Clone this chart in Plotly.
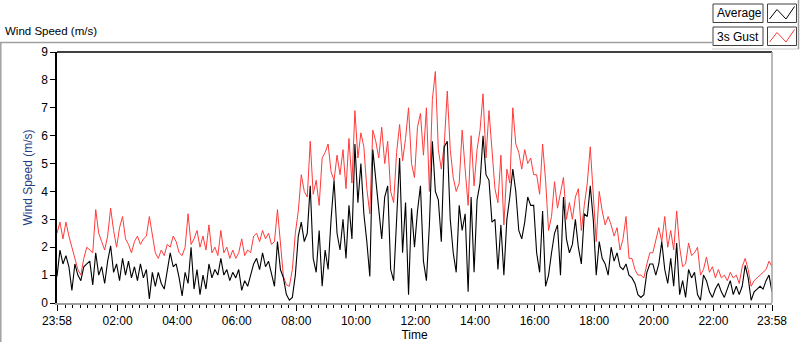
import pandas as pd
import plotly.graph_objects as go

# ---------------- data (6-minute samples) ----------------
start_time = "2019-01-01 23:58"
step = "6min"

gust = [
    2.5, 2.9, 2.3, 2.9, 2.4, 2.0, 1.6, 1.2, 1.0, 1.6,
    2.0, 1.9, 1.8, 3.35, 2.5, 2.2, 1.9, 2.4, 3.4, 2.6,
    2.0, 2.7, 3.1, 2.3, 2.1, 1.8, 2.2, 2.4, 2.1, 2.3,
    2.4, 3.1, 2.5, 1.8, 1.6, 1.9, 1.7, 2.1, 2.0, 2.4,
    2.2, 1.8, 1.7, 2.0, 3.2, 2.1, 2.3, 2.6, 2.0, 2.4,
    1.9, 2.8, 1.8, 2.0, 1.7, 2.6, 1.8, 2.0, 1.6, 1.9,
    1.6, 1.8, 2.3, 1.7, 1.9, 1.8, 2.4, 2.5, 2.2, 2.6,
    2.3, 2.5, 2.1, 2.2, 3.35, 2.0, 0.95, 0.65, 0.6, 1.2,
    2.5, 3.3, 4.6, 4.0, 3.8, 5.8, 3.9, 4.4, 3.5, 5.2,
    5.4, 5.7, 4.7, 4.4, 5.3, 4.6, 5.5, 4.1, 5.9, 4.3,
    6.9, 5.2, 6.1, 5.6, 4.1, 3.2, 6.2, 5.8, 5.2, 6.3,
    5.0, 5.8, 4.0, 3.6, 5.4, 6.4, 5.1, 5.9, 7.0, 5.0,
    4.5, 6.3, 6.8, 5.3, 7.0, 4.0, 7.3, 8.3, 5.5, 4.8,
    5.7, 7.6, 5.5, 4.5, 4.0, 4.3, 6.2, 4.8, 3.5, 6.0,
    4.2, 5.5, 6.2, 7.5, 5.2, 6.9, 5.3, 4.1, 3.6, 5.3,
    2.8, 4.8, 4.3, 7.0, 5.7, 5.4, 4.8, 5.5, 5.0, 5.2,
    4.6, 4.6, 3.9, 5.7, 4.4, 2.6, 3.1, 4.35, 3.4, 3.9,
    4.5, 3.0, 3.6, 3.0, 3.8, 4.1, 2.6, 3.5, 4.3, 5.6,
    4.0, 2.2, 4.0, 3.3, 2.8, 3.1, 2.8, 2.4, 2.7, 1.9,
    2.3, 3.1, 1.6, 1.6, 1.2, 1.0, 1.0, 0.9, 1.4, 1.8,
    1.8, 2.3, 2.7, 2.2, 3.1, 2.0, 2.6, 1.9, 3.3, 2.0,
    1.3, 1.4, 2.15, 1.7, 1.8, 2.0, 1.0, 1.2, 1.65, 1.1,
    1.3, 0.9, 1.2, 0.9, 1.0, 0.8, 1.1, 0.9, 1.0, 0.7,
    1.3, 1.6, 1.2, 0.6, 0.8, 0.9, 1.0, 1.1, 1.2, 1.5, 1.3,
]

average = [
    0.95, 1.9, 1.4, 1.7, 1.3, 0.45, 1.4, 1.0, 0.8, 1.3,
    1.4, 1.5, 0.65, 1.8, 1.0, 1.3, 0.7, 1.5, 2.05, 1.1,
    1.4, 0.8, 1.6, 1.0, 1.5, 0.9, 1.3, 0.8, 1.4, 0.9,
    1.2, 0.15, 1.1, 0.6, 1.1, 0.7, 0.5, 1.2, 1.8, 1.3,
    1.4, 0.9, 0.25, 1.1, 0.7, 2.0, 0.5, 1.2, 0.3, 1.0,
    0.5, 1.4, 0.9, 1.2, 1.0, 1.6, 1.0, 1.2, 0.8, 1.1,
    0.9, 1.2, 0.45, 0.8, 0.6, 1.0, 1.4, 1.6, 1.2, 1.8,
    1.3, 1.5, 1.1, 0.6, 2.2, 1.2, 0.9, 0.3, 0.1, 0.2,
    1.0, 2.4, 2.9, 2.2, 2.5, 4.2, 1.6, 1.1, 2.6, 0.6,
    1.9, 1.2, 3.0, 4.4, 2.5, 1.9, 3.0, 1.6, 3.5, 2.3,
    5.7, 3.6, 5.0, 3.2, 2.2, 0.95, 5.5, 4.4, 3.2, 2.3,
    3.8, 4.2, 1.2, 0.8, 3.0, 5.2, 1.8, 3.6, 0.3, 3.4,
    2.0, 3.3, 4.2, 1.5, 0.8, 2.8, 5.8, 4.0, 3.7, 2.2,
    5.6, 5.8, 3.0, 1.8, 1.1, 3.5, 2.6, 3.2, 0.4, 3.8,
    1.1, 3.7, 4.3, 6.0, 4.6, 4.4, 2.9, 3.0, 1.2, 2.8,
    1.0, 3.0, 3.8, 4.8, 4.0, 2.6, 2.3, 2.9, 3.8, 3.5,
    3.5, 1.8, 1.1, 3.3, 0.6, 1.0, 1.8, 2.5, 2.8, 1.0,
    3.8, 2.3, 1.8, 2.1, 3.0, 2.0, 1.4, 3.2, 3.1, 4.2,
    3.0, 1.0, 2.2, 1.6, 1.4, 1.0, 2.0, 1.5, 1.8, 1.3,
    1.2, 1.4, 1.0, 0.9, 0.7, 0.3, 0.2, 0.3, 1.1, 1.4,
    1.4, 1.0, 1.4, 2.2, 1.2, 0.7, 1.6, 0.6, 2.15, 0.3,
    0.8, 0.2, 1.2, 0.9, 1.1, 0.3, 0.1, 1.0, 0.8, 0.4,
    0.2, 0.5, 0.7, 0.4, 0.2, 0.5, 0.8, 0.3, 0.6, 0.3,
    0.6, 1.35, 0.9, 0.1, 0.4, 0.5, 0.6, 0.5, 0.8, 1.0, 0.4,
]

y_ticks = [0, 1, 2, 3, 4, 5, 6, 7, 8, 9]

times = pd.date_range(start=start_time, periods=len(gust), freq=step)
tick_times = ([times[0]]
              + list(pd.date_range("2019-01-02 02:00", "2019-01-02 22:00", freq="2h"))
              + [times[-1]])
tick_text = [t.strftime("%H:%M") for t in tick_times]

# ---------------- layout geometry (pixels) ----------------
W, H = 800, 342
L, R, T, B = 57, 772, 52, 303
FONT = "Liberation Sans"


def px(x):
    return (x - L) / (R - L)


def py(y):
    return (B - y) / (B - T)


fig = go.Figure()
fig.add_trace(go.Scatter(x=times, y=gust, mode="lines", name="3s Gust",
                         line=dict(color="#FF3B3B", width=1), showlegend=False,
                         hoverinfo="skip"))
fig.add_trace(go.Scatter(x=times, y=average, mode="lines", name="Average",
                         line=dict(color="#000000", width=1.1), showlegend=False,
                         hoverinfo="skip"))

shapes = []
gray = "#A0A0A0"
# plot frame: top & left dark, right light
shapes.append(dict(type="line", xref="paper", yref="paper", x0=px(L), x1=px(R), y0=py(T), y1=py(T),
                   line=dict(color="#000000", width=1.5)))
shapes.append(dict(type="line", xref="paper", yref="paper", x0=px(R), x1=px(R), y0=py(T), y1=py(B),
                   line=dict(color=gray, width=1.5)))
# outer panel frame
shapes.append(dict(type="line", xref="paper", yref="paper", x0=px(0), x1=px(712), y0=py(42.5), y1=py(42.5),
                   line=dict(color=gray, width=1.5)))
shapes.append(dict(type="line", xref="paper", yref="paper", x0=px(0.8), x1=px(0.8), y0=py(42.5), y1=py(342),
                   line=dict(color=gray, width=1.5)))
shapes.append(dict(type="line", xref="paper", yref="paper", x0=px(712), x1=px(799), y0=py(49), y1=py(49),
                   line=dict(color="#C8C8C8", width=1)))
shapes.append(dict(type="line", xref="paper", yref="paper", x0=px(798.5), x1=px(798.5), y0=py(0), y1=py(49),
                   line=dict(color=gray, width=1.5)))

# legend boxes
legend_rows = [("Average", "#000000", 4), ("3s Gust", "#FF3B3B", 27)]
annotations = []
for label, color, top in legend_rows:
    shapes.append(dict(type="rect", xref="paper", yref="paper",
                       x0=px(713), x1=px(763), y0=py(top), y1=py(top + 18.5),
                       line=dict(color="#404040", width=1), fillcolor="white"))
    shapes.append(dict(type="rect", xref="paper", yref="paper",
                       x0=px(767.5), x1=px(796.5), y0=py(top), y1=py(top + 18.5),
                       line=dict(color="#404040", width=1), fillcolor="white"))
    pts = [(769.5, top + 15), (777, top + 5.5), (786, top + 15), (794.5, top + 2.5)]
    path = "M " + " L ".join(f"{px(a)},{py(b)}" for a, b in pts)
    shapes.append(dict(type="path", xref="paper", yref="paper", path=path,
                       line=dict(color=color, width=1)))
    annotations.append(dict(xref="paper", yref="paper", x=px(715), y=py(top + 9.5),
                            xanchor="left", yanchor="middle", text=label, showarrow=False,
                            font=dict(family=FONT, size=12, color="#000000")))

annotations.append(dict(xref="paper", yref="paper", x=px(3), y=py(31), xanchor="left",
                        yanchor="middle", text="Wind Speed (m/s)", showarrow=False,
                        font=dict(family=FONT, size=11.5, color="#000000")))

fig.update_layout(
    width=W, height=H,
    margin=dict(l=L, r=W - R, t=T, b=H - B),
    paper_bgcolor="white", plot_bgcolor="white",
    font=dict(family=FONT, size=12, color="#000000"),
    shapes=shapes, annotations=annotations,
    xaxis=dict(
        type="date", range=[times[0], times[-1]],
        tickmode="array", tickvals=tick_times, ticktext=tick_text,
        ticks="outside", ticklen=6, tickwidth=1, tickcolor="#000000",
        showline=True, linecolor=gray, linewidth=1.5,
        showgrid=False, zeroline=False, automargin=False,
        minor=dict(tickmode="linear", tick0="2019-01-02 00:00", dtick=15 * 60 * 1000,
                   ticks="outside", ticklen=3, tickcolor="#000000", showgrid=False),
        title=dict(text="Time", standoff=3, font=dict(family=FONT, size=12, color="#000000")),
        tickfont=dict(family=FONT, size=12, color="#000000"),
    ),
    yaxis=dict(
        range=[0, 9], tickmode="array", tickvals=y_ticks,
        ticks="outside", ticklen=5, tickcolor="#000000",
        showline=True, linecolor="#000000", linewidth=1.5,
        showgrid=False, zeroline=False, automargin=False,
        title=dict(text="Wind Speed (m/s)", standoff=6,
                   font=dict(family=FONT, size=12, color="#1F3F80")),
        tickfont=dict(family=FONT, size=12, color="#000000"),
    ),
)

fig.write_html("out.html", config={"displayModeBar": False},
               post_script="document.body.style.margin='0px';document.body.style.padding='0px';")
